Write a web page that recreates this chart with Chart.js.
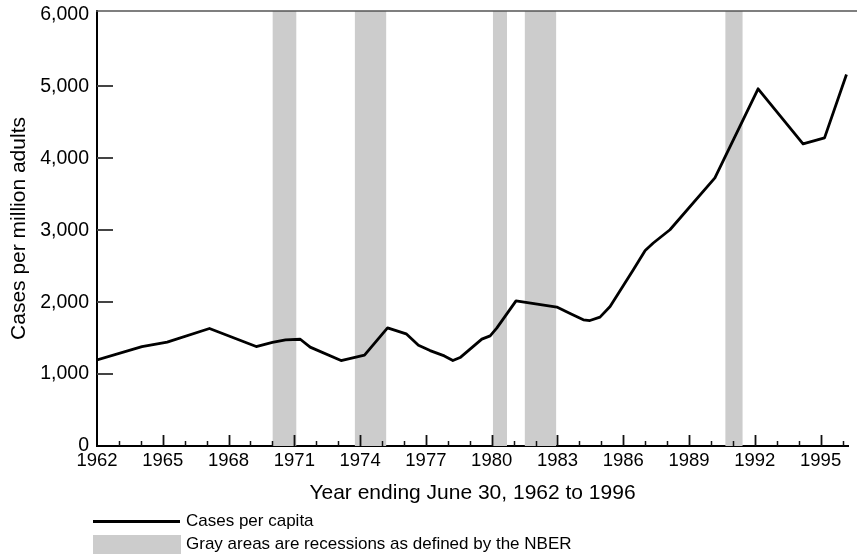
<!DOCTYPE html>
<html>
<head>
<meta charset="utf-8">
<script src="https://cdn.jsdelivr.net/npm/chart.js@4/dist/chart.umd.min.js"></script>
<style>
  html, body { margin: 0; padding: 0; background: #fff; }
  #wrap { position: relative; width: 857px; height: 558px; font-family: 'Liberation Sans', Arial, Helvetica, sans-serif; }
  #c { position: absolute; left: 0; top: 0; }
  .lg-text { position: absolute; font-size: 17px; color: #000; line-height: 20px; white-space: nowrap; }
  .lg-line { position: absolute; background: #000; }
  .lg-box { position: absolute; background: #cccccc; }
</style>
</head>
<body>
<div id="wrap">
  <canvas id="c" width="857" height="558"></canvas>
  <div class="lg-line" style="left:93px; top:520px; width:87px; height:3px;"></div>
  <div class="lg-text" style="left:186px; top:511px;">Cases per capita</div>
  <div class="lg-box" style="left:93px; top:535px; width:88px; height:19px;"></div>
  <div class="lg-text" style="left:186px; top:534px;">Gray areas are recessions as defined by the NBER</div>
</div>
<script>
// ---- data ----
const years = [1962.0, 1964.05, 1965.2, 1967.13, 1969.26, 1970.0, 1970.6, 1971.27, 1971.72, 1973.13,
  1974.2, 1975.25, 1976.1, 1976.66, 1977.19, 1977.84, 1978.23, 1978.56, 1979.55, 1979.93,
  1980.23, 1981.11, 1982.97, 1983.6, 1984.18, 1984.48, 1984.94, 1985.4, 1986.46, 1987.0,
  1987.37, 1988.13, 1990.18, 1992.15, 1994.2, 1995.18, 1996.18];
const casesPerMillion = [1198, 1383, 1444, 1634, 1383, 1440, 1476, 1485, 1375, 1188,
  1263, 1643, 1560, 1402, 1327, 1253, 1188, 1230, 1486, 1532,
  1639, 2019, 1932, 1840, 1755, 1745, 1792, 1940, 2451, 2720,
  2823, 3008, 3728, 4968, 4202, 4285, 5167];
const recessionStart = [1970.0, 1973.75, 1980.05, 1981.5, 1990.65];
const recessionEnd   = [1971.1, 1975.2, 1980.7, 1982.95, 1991.45];
const yTickValues = [0, 1000, 2000, 3000, 4000, 5000, 6000];
const xFirstYear = 1962;
const xLastYear = 1996;
const xLabelEvery = 3;
const xAxisTitle = 'Year ending June 30, 1962 to 1996';
const yAxisTitle = 'Cases per million adults';

const Y_MAX = 6050;
const X_MAX = 1996.25;
const FONT = "'Liberation Sans', Arial, Helvetica, sans-serif";

const lineData = years.map((y, i) => ({ x: y, y: casesPerMillion[i] }));

const datasets = [{
  label: 'Cases per capita',
  data: lineData,
  borderColor: '#000',
  borderWidth: 2.8,
  pointRadius: 0,
  tension: 0,
  fill: false,
  borderJoinStyle: 'round',
  borderCapStyle: 'butt'
}];
recessionStart.forEach((s, i) => {
  datasets.push({
    label: 'recession' + i,
    data: [{ x: s, y: Y_MAX }, { x: recessionEnd[i], y: Y_MAX }],
    borderWidth: 0,
    borderColor: 'rgba(0,0,0,0)',
    backgroundColor: '#cccccc',
    pointRadius: 0,
    fill: 'origin',
    tension: 0
  });
});

const tickMarks = {
  id: 'tickMarks',
  afterDatasetsDraw(chart) {
    const ctx = chart.ctx;
    const xs = chart.scales.x, ys = chart.scales.y;
    const area = chart.chartArea;
    ctx.save();
    xs.ticks.forEach(t => {
      const v = t.value;
      if (!Number.isInteger(v) || v <= xFirstYear) return;
      const px = Math.round(xs.getPixelForValue(v)) + 0.5;
      const major = (v - xFirstYear) % xLabelEvery === 0;
      ctx.strokeStyle = '#111';
      ctx.lineWidth = major ? 1.8 : 1.5;
      ctx.beginPath();
      ctx.moveTo(px, area.bottom);
      ctx.lineTo(px, area.bottom - (major ? 11 : 5));
      ctx.stroke();
    });
    yTickValues.forEach(v => {
      if (v <= 0 || v >= 6000) return;
      const py = Math.round(ys.getPixelForValue(v));
      ctx.strokeStyle = '#444';
      ctx.lineWidth = 2;
      ctx.beginPath();
      ctx.moveTo(area.left, py);
      ctx.lineTo(area.left + 16, py);
      ctx.stroke();
    });
    ctx.strokeStyle = '#555';
    ctx.lineWidth = 1.6;
    ctx.beginPath();
    ctx.moveTo(area.left - 1, area.top);
    ctx.lineTo(chart.width, area.top);
    ctx.stroke();
    ctx.restore();
  }
};

new Chart(document.getElementById('c'), {
  type: 'line',
  data: { datasets },
  plugins: [tickMarks],
  options: {
    responsive: false,
    animation: false,
    devicePixelRatio: 1,
    layout: { padding: { left: 0, right: 9, top: 11, bottom: 0 } },
    plugins: {
      legend: { display: false },
      tooltip: { enabled: false }
    },
    scales: {
      x: {
        type: 'linear',
        min: xFirstYear,
        max: X_MAX,
        grid: { display: false, drawTicks: false },
        border: { display: true, color: '#000', width: 2 },
        ticks: {
          stepSize: 1,
          autoSkip: false,
          includeBounds: false,
          maxRotation: 0,
          minRotation: 0,
          padding: 4,
          color: '#000',
          font: { family: FONT, size: 18.5 },
          callback: v => (Number.isInteger(v) && (v - xFirstYear) % xLabelEvery === 0 && v <= xLastYear) ? String(v) : ''
        },
        title: {
          display: true,
          text: xAxisTitle,
          color: '#000',
          font: { family: FONT, size: 21 },
          padding: { top: 0, bottom: 52 }
        },
        afterFit(scale) {
          scale.height = 112;
          scale.paddingLeft = 0;
          scale.paddingRight = 0;
        }
      },
      y: {
        type: 'linear',
        min: 0,
        max: Y_MAX,
        grid: { display: false, drawTicks: false },
        border: { display: true, color: '#000', width: 2 },
        afterBuildTicks(scale) {
          scale.ticks = yTickValues.map(v => ({ value: v }));
        },
        ticks: {
          padding: 8,
          color: '#000',
          font: { family: FONT, size: 19.5 },
          callback: v => v.toLocaleString('en-US')
        },
        title: {
          display: true,
          text: yAxisTitle,
          color: '#000',
          font: { family: FONT, size: 21 },
          padding: { top: 7, bottom: 0 }
        },
        afterFit(scale) {
          scale.width = 97;
          scale.paddingTop = 0;
          scale.paddingBottom = 0;
        }
      }
    }
  }
});
</script>
</body>
</html>
